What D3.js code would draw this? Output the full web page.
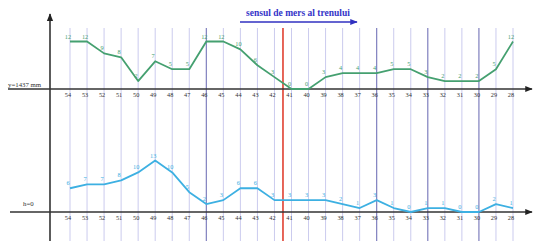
<!DOCTYPE html>
<html><head><meta charset="utf-8">
<script src="https://cdn.jsdelivr.net/npm/d3@7"></script>
<style>body{margin:0;background:#fff}svg{display:block}</style>
</head><body><svg id="c" width="533" height="241"></svg>
<script>
const categories = ["54","53","52","51","50","49","48","47","46","45","44","43","42","41","40","39","38","37","36","35","34","33","32","31","30","29","28"];
const topValues = [12,12,9,8,2,7,5,5,12,12,10,6,3,0,0,3,4,4,4,5,5,3,2,2,2,5,12];
const bottomValues = [6,7,7,8,10,13,10,5,2,3,6,6,3,3,3,3,2,1,3,1,0,1,1,0,0,2,1];
const darkLines = ["46","36","33","30"];
const topLabel = "y=1437 mm";
const bottomLabel = "h=0";
const title = "sensul de mers al trenului";

const svg = d3.select("#c");
const font = "Liberation Serif, DejaVu Serif, serif";
const x = d3.scalePoint().domain(categories).range([70, 513]);
const yTop = d3.scaleLinear().domain([0, 12]).range([89, 41.5]);
const yBot = d3.scaleLinear().domain([0, 12]).range([212, 164.5]);

const defs = svg.append("defs");
function marker(id, color){
  defs.append("marker").attr("id", id).attr("viewBox","0 0 10 10").attr("refX",9).attr("refY",5)
    .attr("markerWidth",5).attr("markerHeight",5).attr("orient","auto-start-reverse")
    .append("path").attr("d","M0,1L10,5L0,9z").attr("fill", color);
}
marker("ak", "#222"); marker("ab", "#3030c0");

// vertical grid lines
svg.append("g").selectAll("line").data(categories).join("line")
  .attr("x1", d => x(d)).attr("x2", d => x(d)).attr("y1", 28).attr("y2", 241)
  .attr("stroke", d => darkLines.includes(d) ? "#7474b8" : "#cbcbee")
  .attr("stroke-width", d => darkLines.includes(d) ? 1.1 : 1);

// red line between 42 and 41
const xr = (x("42") + x("41")) / 2;
svg.append("line").attr("x1", xr).attr("x2", xr).attr("y1", 28).attr("y2", 241)
  .attr("stroke", "#e04030").attr("stroke-width", 1.6);

// axes
svg.append("line").attr("x1", 50).attr("x2", 50).attr("y1", 241).attr("y2", 14)
  .attr("stroke", "#333").attr("stroke-width", 1.6).attr("marker-end", "url(#ak)");
svg.append("line").attr("x1", 8).attr("x2", 532).attr("y1", 89).attr("y2", 89)
  .attr("stroke", "#333").attr("stroke-width", 1.5).attr("marker-end", "url(#ak)");
svg.append("line").attr("x1", 10).attr("x2", 532).attr("y1", 212).attr("y2", 212)
  .attr("stroke", "#333").attr("stroke-width", 1.5).attr("marker-end", "url(#ak)");

// category labels
[97, 220].forEach(yy => {
  svg.append("g").selectAll("text").data(categories).join("text")
    .attr("x", d => x(d) - 2).attr("y", yy).attr("text-anchor", "middle")
    .attr("font-family", font).attr("font-size", 6.3).attr("fill", "#333").text(d => d);
});

// side labels
svg.append("text").attr("x", 8).attr("y", 87).attr("font-family", font).attr("font-size", 6.8)
  .attr("fill", "#333").text(topLabel);
svg.append("text").attr("x", 23).attr("y", 206).attr("font-family", font).attr("font-size", 6.8)
  .attr("fill", "#333").text(bottomLabel);

// title
svg.append("text").attr("x", 298).attr("y", 16).attr("text-anchor", "middle")
  .attr("font-family", font).attr("font-size", 9.5).attr("font-weight", "bold")
  .attr("fill", "#3434c8").text(title);
svg.append("line").attr("x1", 240).attr("x2", 357).attr("y1", 22).attr("y2", 22)
  .attr("stroke", "#3030c0").attr("stroke-width", 1.5).attr("marker-end", "url(#ab)");

// series
function series(vals, y, color){
  const line = d3.line().x((d, i) => x(categories[i])).y(d => y(d));
  svg.append("path").datum(vals).attr("d", line).attr("fill", "none")
    .attr("stroke", color).attr("stroke-width", 1.8).attr("stroke-linejoin", "round");
  svg.append("g").selectAll("text").data(vals).join("text")
    .attr("x", (d, i) => x(categories[i]) - 2).attr("y", d => y(d) - 3)
    .attr("text-anchor", "middle").attr("font-family", font).attr("font-size", 6.3)
    .attr("fill", color).text(d => d);
}
series(topValues, yTop, "#45a070");
series(bottomValues, yBot, "#3db0e2");
</script></body></html>
